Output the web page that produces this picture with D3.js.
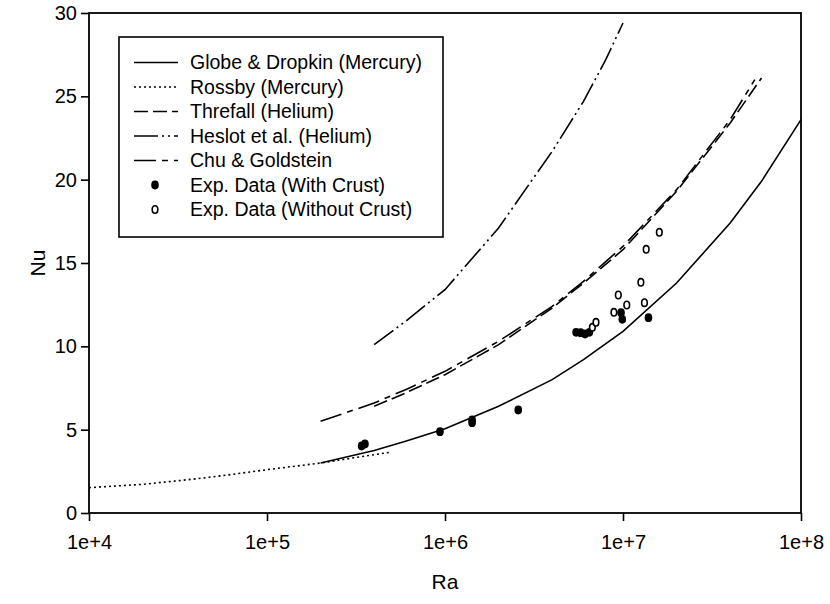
<html>
<meta charset="UTF-8">
<head>
<title>Nu vs Ra</title>
<style>
  body { margin: 0; background: #fff; }
  text { font-family: Arial, "Liberation Sans", sans-serif; fill: #000; }
</style>
</head>
<body>
<script src="https://d3js.org/d3.v7.min.js"></script>
<script>
// correlation curves
let globeRa  = [2e5, 4e5, 6e5, 1e6, 2e6, 4e6, 6e6, 1e7, 2e7, 4e7, 6e7, 1e8]
let globeNu  = [3.0, 3.75, 4.3, 5.05, 6.4, 8.0, 9.2, 10.9, 13.8, 17.4, 19.9, 23.6]

let rossbyRa = [1e4, 2e4, 4e4, 6e4, 1e5, 2e5, 4e5, 5e5]
let rossbyNu = [1.52, 1.72, 2.05, 2.28, 2.6, 3.0, 3.5, 3.65]

let threfallRa = [4e5, 6e5, 1e6, 2e6, 4e6, 6e6, 1e7, 2e7, 4e7, 6e7]
let threfallNu = [6.4, 7.2, 8.3, 10.1, 12.3, 13.8, 15.8, 19.3, 23.4, 26.1]

let heslotRa = [4e5, 6e5, 1e6, 2e6, 4e6, 6e6, 8e6, 1e7]
let heslotNu = [10.1, 11.5, 13.4, 17.1, 21.7, 24.7, 27.2, 29.4]

let chuRa = [2e5, 4e5, 6e5, 1e6, 2e6, 4e6, 6e6, 1e7, 2e7, 4e7, 5.5e7]
let chuNu = [5.5, 6.6, 7.4, 8.5, 10.3, 12.4, 13.9, 16.0, 19.4, 23.6, 26.0]

// experimental points
let crustRa = [3.4e5, 3.55e5, 9.37e5, 1.42e6, 1.42e6, 2.58e6, 5.45e6, 5.78e6, 6.12e6, 6.47e6, 9.75e6, 9.91e6, 1.39e7]
let crustNu = [4.02, 4.14, 4.88, 5.42, 5.58, 6.18, 10.84, 10.82, 10.74, 10.84, 12.02, 11.62, 11.72]

let noCrustRa = [6.73e6, 7.05e6, 8.89e6, 9.41e6, 1.05e7, 1.26e7, 1.32e7, 1.35e7, 1.60e7]
let noCrustNu = [11.14, 11.44, 12.04, 13.08, 12.48, 13.84, 12.62, 15.82, 16.84]

let xTicks = [1e4, 1e5, 1e6, 1e7, 1e8]
let xTickLabels = ["1e+4", "1e+5", "1e+6", "1e+7", "1e+8"]
let yTicks = [0, 5, 10, 15, 20, 25, 30]

let legendLabels = ["Globe & Dropkin (Mercury)", "Rossby (Mercury)", "Threfall (Helium)",
  "Heslot et al. (Helium)", "Chu & Goldstein", "Exp. Data (With Crust)", "Exp. Data (Without Crust)"]

let width = 830, height = 604
let plotLeft = 89, plotRight = 801, plotTop = 13, plotBottom = 513

let svg = d3.select("body").append("svg")
  .attr("width", width).attr("height", height)

let x = d3.scaleLog().domain([1e4, 1e8]).range([plotLeft, plotRight])
let y = d3.scaleLinear().domain([0, 30]).range([plotBottom, plotTop])

let line = d3.line().x(d => x(d[0])).y(d => y(d[1]))

let curves = [
  {ra: globeRa, nu: globeNu, dash: null},
  {ra: rossbyRa, nu: rossbyNu, dash: "2,3"},
  {ra: threfallRa, nu: threfallNu, dash: "14,5"},
  {ra: heslotRa, nu: heslotNu, dash: "24,4,2,4,2,4"},
  {ra: chuRa, nu: chuNu, dash: "22,6,6,6"}
]

curves.forEach(c => {
  svg.append("path")
    .datum(d3.zip(c.ra, c.nu))
    .attr("d", line)
    .attr("fill", "none")
    .attr("stroke", "#000")
    .attr("stroke-width", 1.6)
    .attr("stroke-dasharray", c.dash)
})

svg.append("g").selectAll("ellipse")
  .data(d3.zip(crustRa, crustNu)).enter()
  .append("ellipse")
  .attr("cx", d => x(d[0])).attr("cy", d => y(d[1]))
  .attr("rx", 3.8).attr("ry", 4.4)
  .attr("fill", "#000")

svg.append("g").selectAll("ellipse")
  .data(d3.zip(noCrustRa, noCrustNu)).enter()
  .append("ellipse")
  .attr("cx", d => x(d[0])).attr("cy", d => y(d[1]))
  .attr("rx", 2.8).attr("ry", 3.7)
  .attr("fill", "#fff").attr("stroke", "#000").attr("stroke-width", 1.6)

// axes
svg.append("g")
  .attr("transform", "translate(0," + plotBottom + ")")
  .call(d3.axisBottom(x).tickValues(xTicks).tickFormat((d, i) => xTickLabels[i]).tickSize(8).tickPadding(14))
svg.append("g")
  .attr("transform", "translate(" + plotLeft + ",0)")
  .call(d3.axisLeft(y).tickValues(yTicks).tickSize(8).tickPadding(4))

svg.selectAll(".domain").remove()
svg.selectAll(".tick line").attr("stroke", "#000").attr("stroke-width", 1.6)
svg.selectAll(".tick text").style("font-size", "20px").attr("fill", "#000")

svg.append("rect")
  .attr("x", plotLeft).attr("y", plotTop)
  .attr("width", plotRight - plotLeft).attr("height", plotBottom - plotTop)
  .attr("fill", "none").attr("stroke", "#000").attr("stroke-width", 1.8)

svg.append("text")
  .attr("x", (plotLeft + plotRight) / 2).attr("y", 589)
  .attr("text-anchor", "middle")
  .style("font-size", "21px")
  .text("Ra")

svg.append("text")
  .attr("transform", "translate(45," + (plotTop + plotBottom) / 2 + ") rotate(-90)")
  .attr("text-anchor", "middle")
  .style("font-size", "21px")
  .text("Nu")

// legend
let legend = svg.append("g")
legend.append("rect")
  .attr("x", 119).attr("y", 37).attr("width", 324).attr("height", 200)
  .attr("fill", "#fff").attr("stroke", "#000").attr("stroke-width", 1.6)

let rowY = i => 62.5 + i * 24.5

curves.forEach((c, i) => {
  legend.append("line")
    .attr("x1", 134).attr("x2", 178)
    .attr("y1", rowY(i)).attr("y2", rowY(i))
    .attr("stroke", "#000").attr("stroke-width", 1.6)
    .attr("stroke-dasharray", c.dash)
})
legend.append("ellipse")
  .attr("cx", 155).attr("cy", rowY(5)).attr("rx", 3.8).attr("ry", 4.4).attr("fill", "#000")
legend.append("ellipse")
  .attr("cx", 155).attr("cy", rowY(6)).attr("rx", 2.8).attr("ry", 3.7)
  .attr("fill", "#fff").attr("stroke", "#000").attr("stroke-width", 1.6)

legend.selectAll("text.lab")
  .data(legendLabels).enter()
  .append("text")
  .attr("class", "lab")
  .attr("x", 190).attr("y", (d, i) => rowY(i))
  .attr("dy", "0.35em")
  .style("font-size", "19.5px")
  .text(d => d)
</script>
</body>
</html>
